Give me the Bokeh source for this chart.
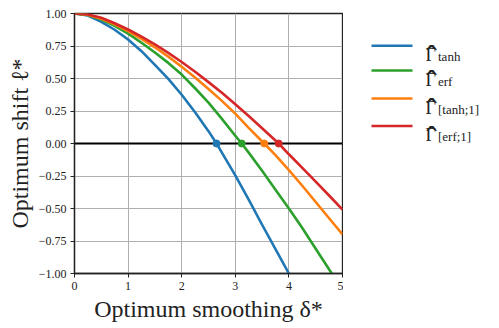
from bokeh.plotting import figure
from bokeh.layouts import row
from bokeh.models import Range1d, FixedTicker, Span
from bokeh.core.properties import value
from bokeh.embed import file_html
from bokeh.resources import INLINE

# ---- data ----
tanh_x = [0, 0.25, 0.5, 0.75, 1, 1.25, 1.5, 1.75, 2, 2.25, 2.5, 2.65, 2.75, 3,
          3.25, 3.5, 3.75, 4]
tanh_y = [1.0, 0.984, 0.935, 0.875, 0.80, 0.71, 0.605, 0.497, 0.375, 0.24, 0.095,
          0.0, -0.07, -0.245, -0.432, -0.625, -0.812, -1.0]
erf_x = [0, 0.25, 0.5, 0.75, 1, 1.25, 1.5, 1.75, 2, 2.25, 2.5, 2.75, 3, 3.12,
         3.25, 3.5, 3.75, 4, 4.25, 4.5, 4.8]
erf_y = [1.0, 0.988, 0.953, 0.905, 0.845, 0.775, 0.70, 0.62, 0.53, 0.425, 0.315,
         0.19, 0.06, 0.0, -0.07, -0.21, -0.355, -0.5, -0.65, -0.81, -1.0]
tanh1_x = [0, 0.25, 0.5, 0.75, 1, 1.25, 1.5, 1.75, 2, 2.25, 2.5, 2.75, 3, 3.25,
           3.54, 3.75, 4, 4.25, 4.5, 4.75, 5]
tanh1_y = [1.0, 0.99, 0.96, 0.917, 0.865, 0.805, 0.74, 0.668, 0.59, 0.508, 0.42,
           0.328, 0.23, 0.12, 0.0, -0.09, -0.205, -0.325, -0.45, -0.575, -0.70]
erf1_x = [0, 0.25, 0.5, 0.75, 1, 1.25, 1.5, 1.75, 2, 2.25, 2.5, 2.75, 3, 3.25,
          3.5, 3.81, 4, 4.25, 4.5, 4.75, 5]
erf1_y = [1.0, 0.992, 0.967, 0.925, 0.877, 0.822, 0.762, 0.697, 0.627, 0.552,
          0.472, 0.39, 0.302, 0.211, 0.117, 0.0, -0.083, -0.187, -0.293, -0.40,
          -0.508]

zero_x = [2.65, 3.12, 3.54, 3.81]
zero_y = [0, 0, 0, 0]

series_names = ["tanh", "erf", "[tanh;1]", "[erf;1]"]
colors = ["#1f77b4", "#2ca02c", "#ff7f0e", "#d62728"]

x_ticks = [0, 1, 2, 3, 4, 5]
x_tick_labels = ["0", "1", "2", "3", "4", "5"]
y_ticks = [-1.0, -0.75, -0.5, -0.25, 0.0, 0.25, 0.5, 0.75, 1.0]
y_tick_labels = ["\u22121.00", "\u22120.75", "\u22120.50", "\u22120.25", "0.00",
                 "0.25", "0.50", "0.75", "1.00"]

SERIF = "Liberation Serif"
INK = "#222222"

p = figure(width=343, height=328, output_backend="svg", toolbar_location=None,
           x_range=Range1d(0, 5), y_range=Range1d(-1, 1),
           min_border_left=74, min_border_right=1, min_border_top=13,
           min_border_bottom=55)

p.background_fill_color = "white"
p.outline_line_color = INK
p.outline_line_width = 1.3

for g in (p.xgrid, p.ygrid):
    g.grid_line_color = "#b0b0b0"
    g.grid_line_width = 1
p.xgrid.ticker = FixedTicker(ticks=x_ticks)
p.ygrid.ticker = FixedTicker(ticks=y_ticks)

p.xaxis.ticker = FixedTicker(ticks=x_ticks)
p.yaxis.ticker = FixedTicker(ticks=y_ticks)
p.xaxis.major_label_overrides = {t: l for t, l in zip(x_ticks, x_tick_labels)}
p.yaxis.major_label_overrides = {t: l for t, l in zip(y_ticks, y_tick_labels)}
for ax in (p.xaxis, p.yaxis):
    ax.axis_line_color = INK
    ax.axis_line_width = 1.3
    ax.major_tick_line_color = INK
    ax.major_tick_out = 4
    ax.major_tick_in = 0
    ax.minor_tick_line_color = None
    ax.major_label_text_font = SERIF
    ax.major_label_text_font_size = "12px"
    ax.major_label_text_color = INK
    ax.axis_label_text_font = SERIF
    ax.axis_label_text_font_size = "24px"
    ax.axis_label_text_font_style = "normal"
    ax.axis_label_text_color = INK
    ax.major_label_standoff = 4
    ax.axis_label_standoff = 3
p.xaxis.axis_label = "Optimum smoothing \u03b4*"
p.yaxis.axis_label = "Optimum shift \u2113*"

# zero line
p.renderers.append(Span(location=0, dimension="width", line_color="black",
                        line_width=2, level="glyph"))

xs = [tanh_x, erf_x, tanh1_x, erf1_x]
ys = [tanh_y, erf_y, tanh1_y, erf1_y]
for x, y, c in zip(xs, ys, colors):
    p.line(x, y, line_color=c, line_width=2.6, line_join="round")
for zx, zy, c in zip(zero_x, zero_y, colors):
    p.scatter([zx], [zy], size=7, color=c)

# ---- legend panel (page-pixel layout coordinates) ----
legend_y = [40.7, 72.0, 107.3, 142.0]
q = figure(width=156, height=328, output_backend="svg", toolbar_location=None,
           x_range=Range1d(343, 499), y_range=Range1d(328, 0),
           min_border=0, x_axis_location=None, y_axis_location=None)
q.grid.visible = False
q.outline_line_color = None
q.background_fill_color = "white"
for ly, c, name in zip(legend_y, colors, series_names):
    q.segment(x0=[371], x1=[412], y0=[ly], y1=[ly], line_color=c, line_width=2.6)
    q.text(x=[425], y=[ly + 11.5], text=["\u0393"], text_font=value(SERIF),
           text_font_size="18px", text_color=INK, text_baseline="alphabetic")
    q.text(x=[431], y=[ly + 13.5], text=["\u02c6"], text_font=value(SERIF),
           text_font_size="32px", text_color=INK, text_baseline="alphabetic",
           text_align="center")
    q.text(x=[437.5], y=[ly + 13.5], text=[name], text_font=value(SERIF),
           text_font_size="13px", text_color=INK, text_baseline="alphabetic")

open("out.html", "w").write(file_html(row(p, q), INLINE))
